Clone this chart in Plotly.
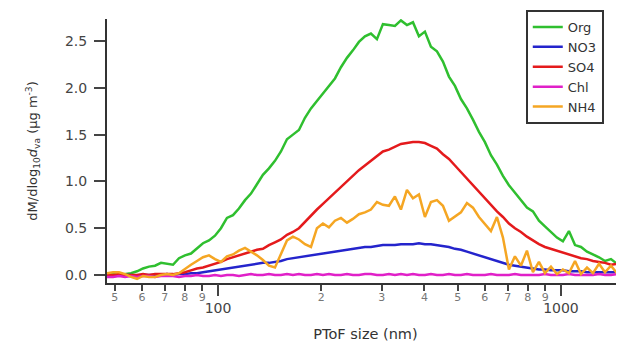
import plotly.graph_objects as go

# Diameters (nm), log-spaced PToF bins
diam = [47.48, 49.43, 51.46, 53.58, 55.78, 58.07, 60.45, 62.93, 65.52, 68.21,
        71.01, 73.93, 76.97, 80.13, 83.42, 86.85, 90.42, 94.14, 98.00, 102.0,
        106.2, 110.6, 115.1, 119.9, 124.8, 129.9, 135.2, 140.8, 146.6, 152.6,
        158.9, 165.4, 172.2, 179.3, 186.7, 194.3, 202.3, 210.6, 219.3, 228.3,
        237.7, 247.4, 257.6, 268.2, 279.2, 290.7, 302.6, 315.1, 328.0, 341.5,
        355.6, 370.2, 385.4, 401.2, 417.7, 434.9, 452.8, 471.4, 490.8, 510.9,
        531.9, 553.8, 576.6, 600.2, 624.9, 650.6, 677.4, 705.2, 734.2, 764.4,
        795.8, 828.5, 862.6, 898.0, 935.0, 973.4, 1013, 1055, 1099, 1144,
        1191, 1240, 1291, 1344, 1399, 1457, 1517]

org = [0.00, 0.01, 0.00, 0.01, 0.02, 0.04, 0.07, 0.09, 0.10, 0.13,
       0.12, 0.11, 0.18, 0.21, 0.23, 0.29, 0.34, 0.37, 0.42, 0.50,
       0.61, 0.64, 0.71, 0.80, 0.87, 0.97, 1.07, 1.14, 1.22, 1.32,
       1.45, 1.50, 1.55, 1.68, 1.78, 1.86, 1.94, 2.03, 2.10, 2.22,
       2.32, 2.40, 2.49, 2.55, 2.58, 2.52, 2.68, 2.67, 2.66, 2.72,
       2.67, 2.70, 2.55, 2.60, 2.44, 2.39, 2.28, 2.12, 2.02, 1.88,
       1.78, 1.66, 1.53, 1.42, 1.28, 1.18, 1.06, 0.96, 0.88, 0.79,
       0.72, 0.68, 0.58, 0.52, 0.46, 0.40, 0.36, 0.47, 0.32, 0.30,
       0.25, 0.22, 0.19, 0.15, 0.17, 0.12, 0.13]

no3 = [0.00, -0.01, 0.00, 0.00, 0.00, -0.01, 0.00, 0.00, 0.00, 0.00,
       0.01, 0.00, 0.01, 0.01, 0.02, 0.02, 0.03, 0.04, 0.05, 0.06,
       0.07, 0.08, 0.09, 0.10, 0.11, 0.12, 0.13, 0.13, 0.14, 0.15,
       0.17, 0.18, 0.19, 0.20, 0.21, 0.22, 0.23, 0.24, 0.25, 0.26,
       0.27, 0.28, 0.29, 0.30, 0.30, 0.31, 0.32, 0.32, 0.32, 0.33,
       0.33, 0.33, 0.34, 0.33, 0.33, 0.32, 0.31, 0.30, 0.28, 0.27,
       0.25, 0.23, 0.21, 0.19, 0.17, 0.15, 0.13, 0.11, 0.10, 0.09,
       0.08, 0.07, 0.06, 0.06, 0.05, 0.05, 0.05, 0.04, 0.04, 0.04,
       0.03, 0.03, 0.03, 0.03, 0.03, 0.03, 0.03]

so4 = [0.00, 0.00, 0.01, 0.00, 0.00, 0.00, 0.01, 0.00, 0.01, 0.01,
       0.01, 0.01, 0.02, 0.03, 0.05, 0.07, 0.08, 0.10, 0.12, 0.14,
       0.17, 0.19, 0.21, 0.23, 0.25, 0.27, 0.28, 0.32, 0.35, 0.38,
       0.43, 0.46, 0.50, 0.57, 0.64, 0.70, 0.76, 0.82, 0.89, 0.95,
       1.01, 1.07, 1.12, 1.17, 1.22, 1.27, 1.32, 1.34, 1.37, 1.40,
       1.41, 1.42, 1.42, 1.41, 1.38, 1.35, 1.29, 1.24, 1.17, 1.10,
       1.03, 0.96, 0.88, 0.81, 0.74, 0.68, 0.62, 0.55, 0.50, 0.46,
       0.41, 0.37, 0.33, 0.30, 0.28, 0.26, 0.24, 0.22, 0.20, 0.18,
       0.17, 0.15, 0.14, 0.13, 0.11, 0.12, 0.13]

chl = [-0.02, -0.02, -0.01, -0.02, -0.01, -0.02, -0.01, -0.01, -0.02, -0.01,
       -0.01, -0.01, -0.02, -0.01, -0.01, 0.00, -0.01, -0.01, 0.00, -0.01,
       0.00, 0.00, -0.01, 0.00, 0.01, 0.00, 0.00, 0.01, 0.00, 0.00,
       0.01, 0.00, 0.01, 0.00, 0.00, 0.01, 0.00, 0.01, 0.00, 0.00,
       0.01, 0.00, 0.00, 0.01, 0.01, 0.00, 0.00, 0.01, 0.00, 0.01,
       0.00, 0.01, 0.00, 0.00, 0.01, 0.00, 0.00, 0.01, 0.00, 0.00,
       0.01, 0.00, 0.00, 0.00, 0.01, 0.00, 0.00, 0.00, 0.01, 0.00,
       0.00, 0.00, 0.00, 0.01, 0.00, 0.00, 0.00, 0.01, 0.00, 0.00,
       0.00, 0.00, 0.01, 0.00, 0.00, 0.01, 0.00]

nh4 = [0.02, 0.03, 0.03, 0.01, -0.02, -0.04, -0.01, -0.02, -0.02, 0.00,
       0.01, 0.00, 0.02, 0.07, 0.11, 0.15, 0.19, 0.21, 0.17, 0.14,
       0.20, 0.22, 0.26, 0.29, 0.25, 0.21, 0.16, 0.10, 0.08, 0.22,
       0.37, 0.41, 0.38, 0.33, 0.30, 0.50, 0.55, 0.51, 0.58, 0.61,
       0.56, 0.60, 0.65, 0.67, 0.70, 0.78, 0.75, 0.74, 0.84, 0.70,
       0.91, 0.82, 0.86, 0.62, 0.78, 0.80, 0.74, 0.58, 0.63, 0.67,
       0.77, 0.72, 0.62, 0.55, 0.47, 0.62, 0.40, 0.06, 0.20, 0.10,
       0.26, 0.03, 0.14, 0.02, 0.09, 0.01, 0.06, 0.02, 0.15, 0.01,
       0.08, 0.02, 0.12, 0.03, 0.10, 0.02, 0.07]

series = [("Org", org, "#2fbf2f"),
          ("NO3", no3, "#2424cc"),
          ("SO4", so4, "#e41a1c"),
          ("Chl", chl, "#e020c8"),
          ("NH4", nh4, "#f5a623")]

minor_vals = [50, 60, 70, 80, 90, 200, 300, 400, 500, 600, 700, 800, 900]
minor_text = ["5", "6", "7", "8", "9", "2", "3", "4", "5", "6", "7", "8", "9"]
major_vals = [100, 1000]
major_text = ["100", "1000"]
y_ticks = [0.0, 0.5, 1.0, 1.5, 2.0, 2.5]
y_text = ["0.0", "0.5", "1.0", "1.5", "2.0", "2.5"]

FONT = "DejaVu Sans, Verdana, sans-serif"

fig = go.Figure()
for name, vals, col in series:
    fig.add_trace(go.Scatter(x=diam, y=vals, mode="lines", name=name,
                             line=dict(color=col, width=2.5)))
# invisible trace that activates the overlaid axis carrying the decade ticks
fig.add_trace(go.Scatter(x=[100], y=[None], xaxis="x2", showlegend=False,
                         hoverinfo="skip"))

xr = [1.6764, 3.1838]
# page body has an 8px default margin, so the figure is offset by 8px
fig.update_layout(
    width=616, height=335,
    margin=dict(l=99, r=0, t=11, b=60, autoexpand=False),
    paper_bgcolor="white", plot_bgcolor="white",
    font=dict(family=FONT, color="#444"),
    xaxis=dict(type="log", range=xr, showgrid=False, zeroline=False,
               showline=True, linecolor="#333", linewidth=2,
               tickmode="array", tickvals=minor_vals, ticktext=minor_text,
               ticks="outside", ticklen=6, tickwidth=1.5, tickcolor="#444",
               ticklabelstandoff=-3,
               tickfont=dict(size=11, color="#777"),
               title=dict(text="PToF size (nm)", font=dict(size=14.5, color="#333"),
                          standoff=26)),
    xaxis2=dict(type="log", range=xr, overlaying="x", side="bottom",
                anchor="y", showgrid=False, zeroline=False, showline=False,
                tickmode="array", tickvals=major_vals, ticktext=major_text,
                ticks="outside", ticklen=12, tickwidth=1.5, tickcolor="#444",
                tickfont=dict(size=14, color="#444")),
    yaxis=dict(range=[-0.085, 2.735], showgrid=False, zeroline=False,
               showline=True, linecolor="#333", linewidth=2,
               tickmode="array", tickvals=y_ticks, ticktext=y_text,
               ticks="outside", ticklen=11, tickwidth=1.5, tickcolor="#444",
               ticklabelstandoff=4,
               tickfont=dict(size=14, color="#444"),
               title=dict(text="dM/dlog<sub>10</sub><i>d</i><sub>va</sub> (µg m<sup>-3</sup>)",
                          font=dict(size=13, color="#333"), standoff=24)),
    legend=dict(x=0.81, y=1.034, xanchor="left", yanchor="top",
                bordercolor="#333", borderwidth=2, bgcolor="white",
                font=dict(size=13, color="#333"), tracegroupgap=0,
                itemwidth=30),
    showlegend=True,
)

fig.write_html("out.html")
